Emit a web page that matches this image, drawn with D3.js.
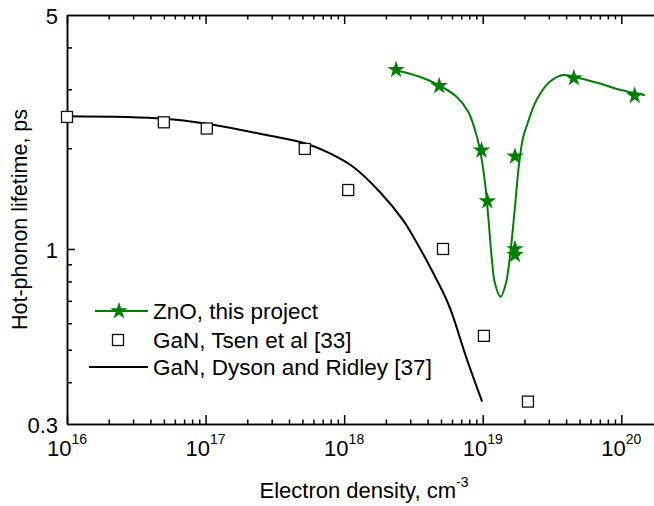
<!DOCTYPE html>
<html><head><meta charset="utf-8">
<script src="https://cdn.jsdelivr.net/npm/d3@7"></script>
<style>body{margin:0;background:#fff}svg{display:block}text{font-family:"Liberation Sans",Arial,Helvetica,sans-serif;fill:#000}</style>
</head><body><svg id="c" width="654" height="506"></svg>
<script>
// ZnO, this project (points)
const znoDensity  = [2.37e18, 4.85e18, 9.8e18, 1.08e19, 1.71e19, 1.71e19, 1.71e19, 4.55e19, 1.25e20];
const znoLifetime = [3.43, 3.07, 1.97, 1.39, 1.89, 1.00, 0.96, 3.24, 2.87];
// ZnO fit curve
const znoFitDensity  = [2.35e18, 3.52e18, 4.85e18, 6.48e18, 7.86e18, 8.79e18, 9.55e18, 1.04e19, 1.096e19, 1.16e19, 1.225e19, 1.346e19, 1.47e19, 1.59e19, 1.71e19, 1.83e19, 1.96e19, 2.07e19, 2.45e19, 3.05e19, 3.81e19, 4.5e19, 7.01e19, 9.77e19, 1.48e20];
const znoFitLifetime = [3.42, 3.27, 3.08, 2.85, 2.57, 2.27, 1.98, 1.57, 1.25, 0.948, 0.79, 0.72, 0.79, 0.99, 1.34, 1.80, 2.16, 2.32, 2.79, 3.16, 3.31, 3.27, 3.12, 2.99, 2.88];
// GaN, Tsen et al [33]
const tsenDensity  = [1e16, 5e16, 1.02e17, 5.2e17, 1.07e18, 5.17e18, 1.02e19, 2.12e19];
const tsenLifetime = [2.48, 2.39, 2.29, 1.99, 1.50, 1.00, 0.55, 0.35];
// GaN, Dyson and Ridley [37]
const dysonDensity  = [1e16, 5e16, 1e17, 2.75e17, 5.2e17, 7.9e17, 1.16e18, 1.81e18, 2.66e18, 3.15e18, 4.16e18, 5.49e18, 6.12e18, 7.65e18, 9.9e18];
const dysonLifetime = [2.49, 2.45, 2.37, 2.19, 2.07, 1.93, 1.76, 1.48, 1.22, 1.09, 0.885, 0.704, 0.627, 0.471, 0.35];

const xMajor = [1e16, 1e17, 1e18, 1e19, 1e20];
const xMajorLabels = ["16", "17", "18", "19", "20"];
const yLabelValues = [5, 1, 0.3];
const yLabels = ["5", "1", "0.3"];
const yMinor = [0.4, 0.5, 0.6, 0.7, 0.8, 0.9, 2, 3, 4];
const legendLabels = ["ZnO, this project", "GaN, Tsen et al [33]", "GaN, Dyson and Ridley [37]"];
const xTitle = "Electron density, cm";
const xTitleSup = "-3";
const yTitle = "Hot-phonon lifetime, ps";

const GREEN = "#008000";
const svg = d3.select("#c");
const L = 67, R = 663, T = 15, B = 424;
const x = d3.scaleLog().domain([1e16, 2e20]).range([L, R]);
const y = d3.scaleLog().domain([0.3, 5]).range([B, T]);

const xMinor = [];
for (let e = 16; e <= 20; e++) for (let m = 2; m <= 9; m++) { const v = m * Math.pow(10, e); if (v <= 2e20) xMinor.push(v); }

function styleAxis(g) {
  g.selectAll("path, line").attr("stroke", "#000").attr("stroke-width", 1.5);
  g.selectAll("text").remove();
}
// bottom
svg.append("g").attr("transform", `translate(0,${B})`).call(d3.axisBottom(x).tickValues(xMajor).tickSize(-9).tickSizeOuter(0).tickFormat("")).call(styleAxis);
svg.append("g").attr("transform", `translate(0,${B})`).call(d3.axisBottom(x).tickValues(xMinor).tickSize(-4.5).tickSizeOuter(0).tickFormat("")).call(styleAxis);
// top
svg.append("g").attr("transform", `translate(0,${T})`).call(d3.axisTop(x).tickValues(xMajor).tickSize(-9).tickSizeOuter(0).tickFormat("")).call(styleAxis);
svg.append("g").attr("transform", `translate(0,${T})`).call(d3.axisTop(x).tickValues(xMinor).tickSize(-4.5).tickSizeOuter(0).tickFormat("")).call(styleAxis);
// left
svg.append("g").attr("transform", `translate(${L},0)`).call(d3.axisLeft(y).tickValues([1]).tickSize(-8).tickSizeOuter(0).tickFormat("")).call(styleAxis);
svg.append("g").attr("transform", `translate(${L},0)`).call(d3.axisLeft(y).tickValues(yMinor).tickSize(-5).tickSizeOuter(0).tickFormat("")).call(styleAxis);

// x tick labels
const xl = svg.append("g").selectAll("text").data(xMajor).join("text")
  .attr("x", d => x(d)).attr("y", 456).attr("text-anchor", "middle").attr("font-size", 22);
xl.append("tspan").text("10");
xl.append("tspan").attr("dy", -12).attr("font-size", 14).text((d, i) => xMajorLabels[i]);

// y tick labels
svg.append("g").selectAll("text").data(yLabelValues).join("text")
  .attr("x", 58).attr("y", d => y(d) + 9).attr("text-anchor", "end").attr("font-size", 22)
  .text((d, i) => yLabels[i]);

// axis titles
const xt = svg.append("text").attr("x", 364).attr("y", 498).attr("text-anchor", "middle").attr("font-size", 22);
xt.append("tspan").text(xTitle);
xt.append("tspan").attr("dy", -11).attr("font-size", 14).text(xTitleSup);
svg.append("text").attr("transform", `translate(27,${(T + B) / 2}) rotate(-90)`).attr("text-anchor", "middle").attr("font-size", 21.5).text(yTitle);

// Dyson line
const line = d3.line().x(d => x(d[0])).y(d => y(d[1])).curve(d3.curveCatmullRom.alpha(0.5));
svg.append("path").datum(d3.zip(dysonDensity, dysonLifetime)).attr("d", line)
  .attr("fill", "none").attr("stroke", "#000").attr("stroke-width", 2);
// ZnO fit
svg.append("path").datum(d3.zip(znoFitDensity, znoFitLifetime)).attr("d", line)
  .attr("fill", "none").attr("stroke", GREEN).attr("stroke-width", 2);
// Tsen squares
const sq = 11;
svg.append("g").selectAll("rect").data(d3.zip(tsenDensity, tsenLifetime)).join("rect")
  .attr("x", d => x(d[0]) - sq / 2).attr("y", d => y(d[1]) - sq / 2).attr("width", sq).attr("height", sq)
  .attr("fill", "#fff").attr("stroke", "#111").attr("stroke-width", 1.3);
// ZnO stars
const star = d3.symbol(d3.symbolStar, 95);
svg.append("g").selectAll("path").data(d3.zip(znoDensity, znoLifetime)).join("path")
  .attr("d", star).attr("transform", d => `translate(${x(d[0])},${y(d[1])})`).attr("fill", GREEN);

// legend
const lg = svg.append("g");
const rows = [311, 340, 367];
lg.append("line").attr("x1", 95).attr("x2", 148).attr("y1", rows[0]).attr("y2", rows[0]).attr("stroke", GREEN).attr("stroke-width", 2);
lg.append("path").attr("d", star).attr("transform", `translate(119,${rows[0]})`).attr("fill", GREEN);
lg.append("rect").attr("x", 118 - sq / 2).attr("y", rows[1] - sq / 2).attr("width", sq).attr("height", sq).attr("fill", "#fff").attr("stroke", "#111").attr("stroke-width", 1.3);
lg.append("line").attr("x1", 89).attr("x2", 148).attr("y1", rows[2]).attr("y2", rows[2]).attr("stroke", "#000").attr("stroke-width", 2);
lg.selectAll("text").data(legendLabels).join("text").attr("x", 153).attr("y", (d, i) => rows[i] + 8)
  .attr("font-size", 22.5).text(d => d);
</script></body></html>
